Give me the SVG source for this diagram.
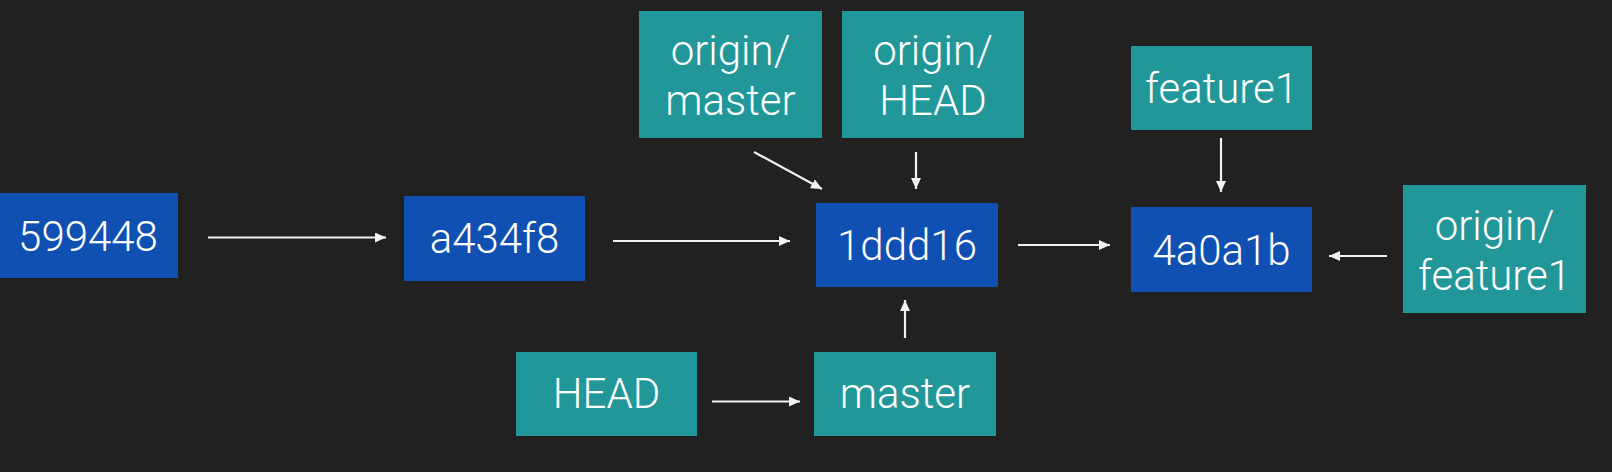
<svg xmlns="http://www.w3.org/2000/svg" width="1612" height="472" viewBox="0 0 1612 472">
<style>
.commit{fill:#0f50b2}
.ref{fill:#22979a}
.t{font-family:Roboto,"Liberation Sans",sans-serif;font-weight:300;font-size:42px;fill:#ffffff;text-anchor:middle}
.c{stroke:#f2f2f2;stroke-width:2.2;fill:none;marker-end:url(#ah)}
</style>
<defs>
<marker id="ah" markerUnits="userSpaceOnUse" markerWidth="12" markerHeight="10" refX="11" refY="5" orient="auto">
<path d="M0,0 L11,5 L0,10 z" fill="#f2f2f2"/>
</marker>
</defs>
<rect width="1612" height="472" fill="#212121"/>
<g id="connectors">
<line class="c" x1="208" y1="237.5" x2="386" y2="237.5"/>
<line class="c" x1="613" y1="241" x2="790" y2="241"/>
<line class="c" x1="754" y1="152" x2="822" y2="189"/>
<line class="c" x1="916" y1="152" x2="916" y2="189"/>
<line class="c" x1="1018" y1="245" x2="1110" y2="245"/>
<line class="c" x1="1221" y1="138" x2="1221" y2="192"/>
<line class="c" x1="1387" y1="256" x2="1329" y2="256"/>
<line class="c" x1="712" y1="401.5" x2="800" y2="401.5"/>
<line class="c" x1="905" y1="338" x2="905" y2="300"/>
</g>
<g id="n599448"><rect class="commit" x="0" y="193" width="178" height="85"/><text class="t" x="88" y="251">599448</text></g>
<g id="na434f8"><rect class="commit" x="404" y="196" width="181" height="85"/><text class="t" x="494.5" y="253">a434f8</text></g>
<g id="n1ddd16"><rect class="commit" x="816" y="203" width="182" height="84"/><text class="t" x="907" y="260">1ddd16</text></g>
<g id="n4a0a1b"><rect class="commit" x="1131" y="207" width="181" height="85"/><text class="t" x="1221.5" y="265">4a0a1b</text></g>
<g id="originmaster"><rect class="ref" x="639" y="11" width="183" height="127"/><text class="t" x="730.5" y="65">origin/</text><text class="t" x="730.5" y="115">master</text></g>
<g id="originhead"><rect class="ref" x="842" y="11" width="182" height="127"/><text class="t" x="933" y="65">origin/</text><text class="t" x="933" y="115">HEAD</text></g>
<g id="feature1"><rect class="ref" x="1131" y="46" width="181" height="84"/><text class="t" x="1221.5" y="103">feature1</text></g>
<g id="originfeature1"><rect class="ref" x="1403" y="185" width="183" height="128"/><text class="t" x="1494.5" y="240">origin/</text><text class="t" x="1494.5" y="290">feature1</text></g>
<g id="head"><rect class="ref" x="516" y="352" width="181" height="84"/><text class="t" x="606.5" y="408">HEAD</text></g>
<g id="master"><rect class="ref" x="814" y="352" width="182" height="84"/><text class="t" x="905" y="408">master</text></g>
</svg>
